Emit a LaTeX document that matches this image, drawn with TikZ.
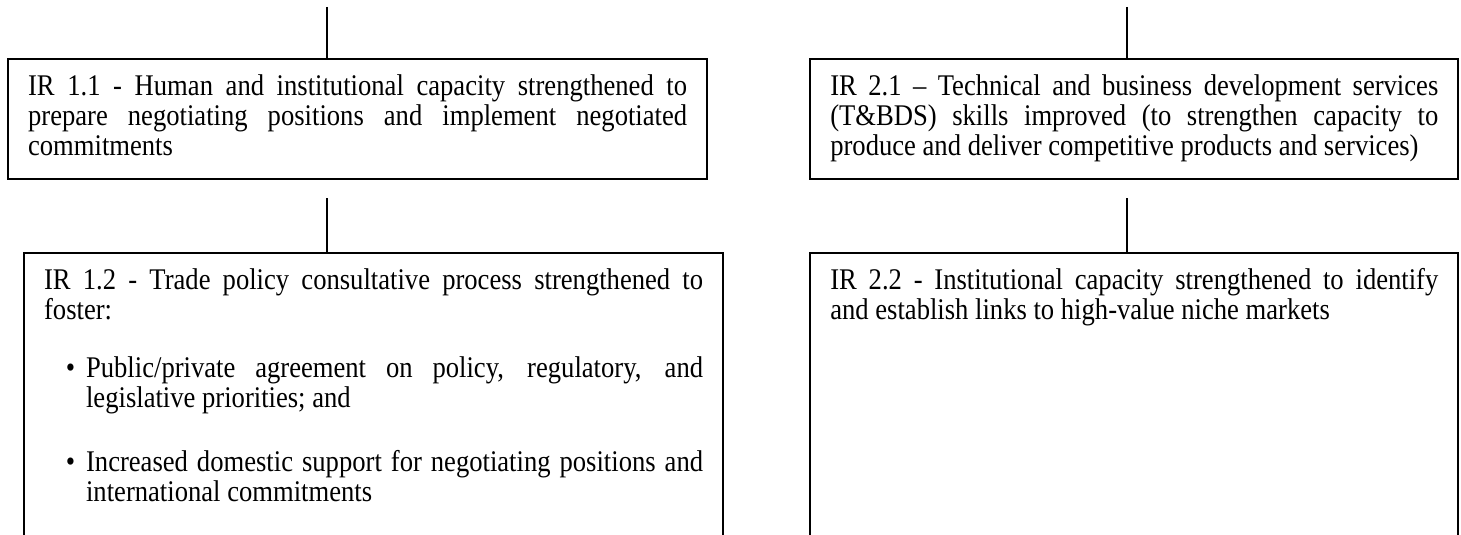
\documentclass[tikz,border=0pt]{standalone}
\usepackage{fontspec}
\setmainfont{Liberation Serif}[FakeStretch=0.887]
\usetikzlibrary{positioning}
\tikzstyle{irbox} = [draw, rectangle, line width=1.1pt, inner xsep=10pt, inner ysep=0pt, align=justify, text height=18pt, font=\fontsize{15pt}{15pt}\selectfont]
\tikzstyle{stem} = [line width=0.9pt]
% bulleted paragraph inside a box
\newcommand{\irbullet}[2]{\par\vspace{#1}{\leftskip=21pt\noindent\llap{\textbullet\hspace{5.5pt}}#2\par}}

\begin{document}
\begin{tikzpicture}[x=0.5pt,y=-0.5pt,node distance=50.5pt]
\useasboundingbox (0,0) rectangle (1461,535);
\clip (0,0) rectangle (1461,535);

\node[irbox, anchor=north west, text width=329.5pt, text depth=42pt] (ir11) at (7,58)
  {IR 1.1 - Human and institutional capacity strengthened to\linebreak
   prepare negotiating positions and implement negotiated\linebreak
   commitments};
\node[irbox, text width=304pt, text depth=42pt] (ir21) [right=of ir11]
  {\parfillskip=0pt IR 2.1 -- Technical and business development services\linebreak
   (T\&BDS) skills improved (to strengthen capacity to\linebreak
   produce and deliver competitive products and services)};

\node[irbox, text width=329.5pt, text depth=135pt] (ir12) [below right=36pt and 8pt of ir11.south west]
  {IR 1.2 - Trade policy consultative process strengthened to\linebreak foster:
   \irbullet{14pt}{Public/private agreement on policy, regulatory, and\linebreak legislative priorities; and}
   \irbullet{17pt}{Increased domestic support for negotiating positions and\linebreak international commitments}};
\node[irbox, text width=304pt, text depth=135pt] (ir22) [right=42.5pt of ir12]
  {IR 2.2 - Institutional capacity strengthened to identify\linebreak
   and establish links to high-value niche markets};

% stems into the boxes
\coordinate (top11) at (327,7);
\coordinate (top21) at (1127,7);
\coordinate (top12) at (327,198);
\coordinate (top22) at (1127,198);
\draw[stem] (top11) -- (top11 |- ir11.north);
\draw[stem] (top21) -- (top21 |- ir21.north);
\draw[stem] (top12) -- (top12 |- ir12.north);
\draw[stem] (top22) -- (top22 |- ir22.north);

\end{tikzpicture}
\end{document}
